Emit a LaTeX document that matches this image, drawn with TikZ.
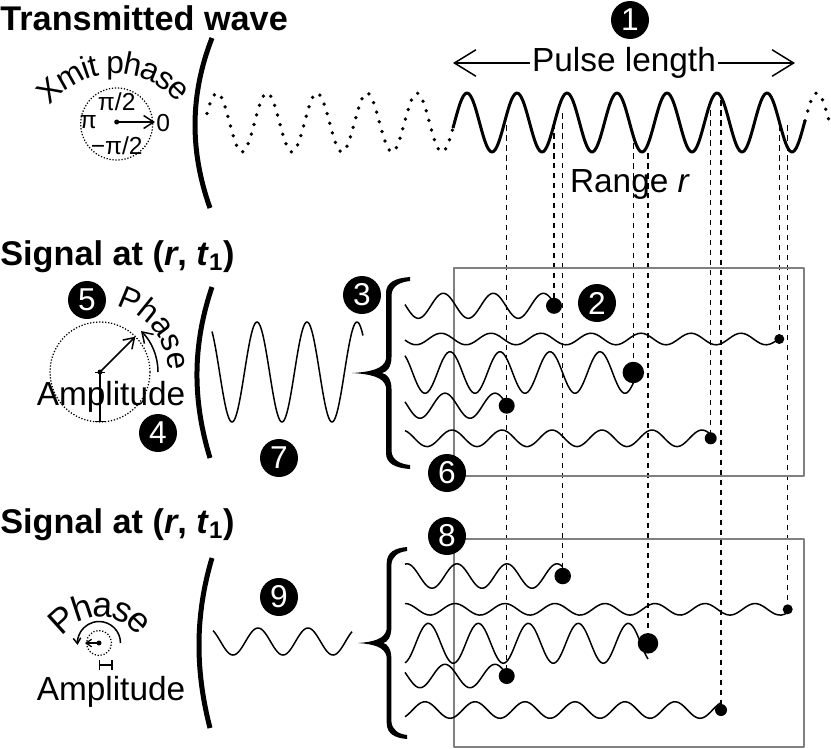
\documentclass[tikz,border=0pt]{standalone}
\usepackage{fontspec}
\setmainfont{Liberation Sans}
\usetikzlibrary{arrows.meta,decorations.text}
\pgfdeclarelayer{background}
\pgfsetlayers{background,main}
\newcommand\bigtxt{\fontsize{19}{22}\selectfont}
\newcommand\arctxt{\fontsize{18}{21}\selectfont}
\newcommand\minitxt{\fontsize{20}{22}\selectfont}
\newcommand\pitxt{\fontsize{14}{16}\selectfont}
\newcommand\numtxt{\fontsize{18}{18}\selectfont}

\begin{document}
\begin{tikzpicture}[x=0.02cm, y=0.02cm, line join=round]
    \tikzstyle{num} = [circle, fill=black, text=white, inner sep=0pt, minimum size=0.76cm, font=\numtxt];
    \tikzstyle{blob} = [circle, fill=black, inner sep=0pt];
    \tikzstyle{title} = [anchor=base west, inner sep=0pt, font=\bfseries\fontsize{19.5}{22}\selectfont];
    \tikzstyle{lbl} = [inner sep=1pt, font=\bigtxt];
    \tikzstyle{pilbl} = [inner sep=0pt, font=\pitxt];
    \tikzstyle{paren} = [line width=0.1cm];
    \tikzstyle{dropline} = [line width=0.03cm, dash pattern=on 0.11cm off 0.09cm];
    \tikzstyle{boxframe} = [draw=gray, line width=0.025cm];
    \tikzstyle{ring} = [line width=0.025cm, densely dotted];
    \tikzstyle{barb} = [-{Straight Barb[length=0.43cm, width=0.53cm]}, line width=0.03cm];
    \tikzstyle{pointer} = [-{Straight Barb[length=0.2cm, width=0.26cm]}, line width=0.03cm];
    \tikzstyle{tinypointer} = [-{Straight Barb[length=0.11cm, width=0.15cm]}, line width=0.025cm];
    \tikzstyle{ampspan} = [{Bar[width=0.2cm]}-{Bar[width=0.2cm]}, line width=0.025cm];
    \tikzstyle{xwave} = [line width=0.06cm];
    \tikzstyle{ghost} = [line width=0.075cm, line cap=round, dash pattern=on 0pt off 0.2cm];
    \tikzstyle{swave} = [line width=0.03cm];
    \tikzset{curly/.pic={
        \fill (0,0) .. controls (18,1) and (32,4) .. (34,14) -- (34,80)
            .. controls (34,91) and (44,95) .. (58,96) -- (58,92)
            .. controls (48,91) and (40,87) .. (39.5,78) -- (39.5,16)
            .. controls (39.5,6) and (35,1) .. (30,0)
            .. controls (35,-1) and (39.5,-6) .. (39.5,-16) -- (39.5,-78)
            .. controls (40,-87) and (48,-91) .. (58,-92) -- (58,-96)
            .. controls (44,-95) and (34,-91) .. (34,-80) -- (34,-14)
            .. controls (32,-4) and (18,-1) .. (0,0) -- cycle;
    }}

    \useasboundingbox (0,0) rectangle (831,-748);

    % Titles
    \node [title] (tx) at (0,-30) {Transmitted wave};
    \node [title] (sig1) at (0,-265) {Signal at (\textit{r}, \textit{t}\textsubscript{1})};
    \node [title] (sig2) at (0,-533) {Signal at (\textit{r}, \textit{t}\textsubscript{1})};

    % Transmit phase dial
    \coordinate (xc) at (116.7,-124);
    \draw [ring] (xc) circle [radius=36];
    \node [blob, minimum size=0.1cm] (xdot) at (116.7,-122) {};
    \coordinate (xtip) at (155,-122);
    \draw [pointer] (xdot.center) -- (xtip);
    \node [pilbl, anchor=west] (zero) at (156,-123) {0};
    \node [pilbl] (halfpi) at (116.7,-101.7) {π/2};
    \node [pilbl] (pi) at (88.3,-121.7) {π};
    \node [pilbl] (mhalfpi) at (116.7,-146) {−π/2};
    \path [decorate, decoration={text along path, raise=-0.16cm, text align=center, text={|\arctxt|Xmit phase}}]
        (115,-156) ++(151:90) arc [start angle=151, end angle=31, radius=90];

    % Transmitted wave
    \draw [paren] (212,-38) .. controls (189.7,-95) and (189.7,-151) .. (210,-208);
    \draw [ghost] plot [domain=207:453, samples=150, smooth] (\x, {-(122.5-29.5*cos(7.2*(\x-467)))});
    \draw [xwave] plot [domain=453:805, samples=200, smooth] (\x, {-(122.5-29.5*cos(7.2*(\x-467)))});
    \draw [ghost] plot [domain=805:831, samples=20, smooth] (\x, {-(122.5-29.5*cos(7.2*(\x-467)))});

    \node [lbl] (pulse) at (624,-63) {Pulse length};
    \coordinate (pl) at (453,-63);
    \coordinate (pr) at (795,-63);
    \draw [barb] (pulse) -- (pl);
    \draw [barb] (pulse) -- (pr);
    \node [lbl] (range) at (630,-184) {Range \textit{r}};

    % Received signal, big phasor
    \coordinate (ac) at (100,-372);
    \draw [ring] (ac) circle [radius=50];
    \node [blob, minimum size=0.1cm] (adot) at (ac) {};
    \path (ac) ++(45:50) coordinate (atip);
    \draw [pointer] (adot.center) -- (atip);
    \draw [pointer] (ac) ++(0:58) arc [start angle=0, end angle=45, radius=58];
    \coordinate (abot) at (100,-422);
    \draw [ampspan] (ac) -- (abot);
    \node [lbl, anchor=base] (amp1) at (111,-405) {Amplitude};
    \path [decorate, decoration={text along path, text align=center, text={|\arctxt|Phase}}]
        (ac) ++(80:68) arc [start angle=80, end angle=-3, radius=68];

    \draw [paren] (212,-287) .. controls (192.3,-345) and (192.3,-400) .. (210,-458);
    \draw [line width=0.03cm] plot [domain=212:363, samples=150, smooth] (\x, {-(372-50*cos(7.2*(\x-257)))});
    \pic at (352,-373) {curly};

    % Received signal, small phasor
    \coordinate (bc) at (99,-643);
    \draw [ring] (bc) circle [radius=12.5];
    \node [blob, minimum size=0.1cm] (bdot) at (bc) {};
    \coordinate (btip) at (85,-643);
    \draw [tinypointer] (bdot.center) -- (btip);
    \draw [tinypointer, line width=0.03cm] (bc) ++(0:21.5) arc [start angle=0, end angle=185, radius=21.5];
    \coordinate (bl) at (99,-665);
    \coordinate (br) at (112.5,-665);
    \draw [ampspan] (bl) -- (br);
    \node [lbl, anchor=base] (amp2) at (111,-700) {Amplitude};
    \path [decorate, decoration={text along path, raise=-0.14cm, text align=center, text={|\minitxt|Phase}}]
        (100,-662) ++(150:52) arc [start angle=150, end angle=30, radius=52];

    \draw [paren] (212,-558) .. controls (195,-615) and (195,-670) .. (210,-728);
    \draw [line width=0.03cm] plot [domain=213:352, samples=120, smooth] (\x, {-(641.5-13.5*cos(7.2*(\x-258)))});
    \pic [xscale=0.845] at (358,-643) {curly};

    % Range gates
    \draw [boxframe] (454,-268) rectangle (804,-476);
    \draw [boxframe] (454,-539) rectangle (804,-747);

    % Scatterer echoes
    \foreach \yc/\amp/\pk/\xe/\sz/\nm in {305.8/12.5/443.3/554/0.32cm/ua, 339/5.8/541/779.3/0.2cm/ub,
        372.5/20.8/450/633.3/0.43cm/uc, 405.7/12.5/445/506.7/0.32cm/ud, 438.3/8.3/452/710.7/0.24cm/ue,
        576/12.2/457/562.7/0.33cm/la, 609.3/5.8/455/787.7/0.2cm/lb, 643.3/20/428.3/648/0.41cm/lc,
        676/11.7/445/506.7/0.32cm/ld, 710/8.3/425/721/0.24cm/le} {
        \draw [swave] plot [domain=405:\xe, samples=120, smooth] (\x, {-(\yc-\amp*cos(7.2*(\x-\pk)))});
        \node [blob, minimum size=\sz] (\nm) at (\xe,-\yc) {};
    }

    % Tops of the drop lines
    \foreach \xp/\yp/\nm in {506.7/125/ta, 554/123/tb, 562.7/113/tc, 633.3/143/td, 648/153/te,
        710.7/110/tf, 721/100/tg, 779.3/125/th, 787.7/125/ti}
        \coordinate (\nm) at (\xp,-\yp);

    % Numbered markers
    \node [num] (n1) at (630,-20) {1};
    \node [num] (n2) at (597,-303) {2};
    \node [num] (n3) at (362,-295) {3};
    \node [num] (n4) at (158,-433) {4};
    \node [num] (n5) at (87,-300) {5};
    \node [num] (n6) at (447,-473) {6};
    \node [num] (n7) at (279,-458) {7};
    \node [num] (n8) at (447,-536) {8};
    \node [num] (n9) at (279,-597) {9};

    % Drop lines
    \begin{pgfonlayer}{background}
        \foreach \tp/\dt in {ta/ld, tb/ua, tc/la, td/uc, te/lc, tf/ue, tg/le, th/ub, ti/lb}
            \draw [dropline] (\tp) -- (\dt.center);
    \end{pgfonlayer}
\end{tikzpicture}
\end{document}
